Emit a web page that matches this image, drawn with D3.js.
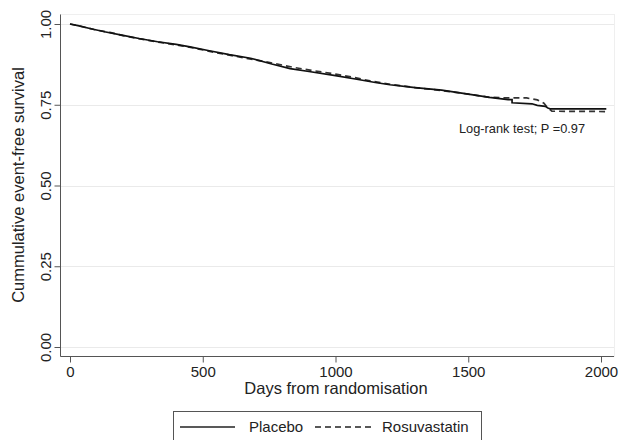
<!DOCTYPE html>
<html>
<head>
<meta charset="utf-8">
<script src="https://cdn.jsdelivr.net/npm/d3@7"></script>
<style>
  body { margin: 0; background: #fff; }
  text { font-family: "Liberation Sans", Arial, sans-serif; fill: #222; }
</style>
</head>
<body>
<div id="chart"></div>
<script>
const width = 620;
const height = 440;

// Kaplan-Meier curves (many tiny steps, drawn as a path)
const placeboDays = [0, 30, 75, 130, 200, 260, 330, 400, 452, 520, 600, 680, 760, 829, 900, 1000, 1080, 1150, 1205, 1300, 1400, 1500, 1580, 1650, 1665, 1665, 1740, 1760, 1790, 1800, 1810, 2020];
const placeboSurv = [1.000, 0.995, 0.986, 0.976, 0.965, 0.955, 0.945, 0.937, 0.929, 0.918, 0.905, 0.894, 0.876, 0.862, 0.853, 0.840, 0.829, 0.819, 0.812, 0.803, 0.795, 0.783, 0.773, 0.766, 0.766, 0.756, 0.753, 0.748, 0.745, 0.740, 0.737, 0.737];
const rosuDays = [0, 40, 90, 150, 200, 270, 340, 410, 470, 540, 610, 690, 770, 840, 920, 1000, 1060, 1130, 1210, 1300, 1400, 1500, 1580, 1650, 1720, 1760, 1785, 1800, 1815, 2020];
const rosuSurv = [1.000, 0.993, 0.983, 0.974, 0.964, 0.953, 0.943, 0.934, 0.925, 0.913, 0.902, 0.890, 0.878, 0.866, 0.855, 0.845, 0.836, 0.824, 0.813, 0.803, 0.794, 0.783, 0.773, 0.771, 0.771, 0.765, 0.755, 0.740, 0.730, 0.729];

const xTicks = [0, 500, 1000, 1500, 2000];
const yTicks = [0, 0.25, 0.5, 0.75, 1];
const seriesNames = ['Placebo', 'Rosuvastatin'];

const svg = d3.select('#chart')
    .append('svg')
    .attr('width', width)
    .attr('height', height);

const x = d3.scaleLinear().domain([0, 2000]).range([70, 601]);
const y = d3.scaleLinear().domain([0, 1]).range([347, 24]);

// plot region frame (light)
svg.append('rect')
    .attr('x', 60.5).attr('y', 14.5)
    .attr('width', 554).attr('height', 342)
    .attr('fill', 'none')
    .attr('stroke', '#efefef');

// gridlines
svg.append('g')
    .selectAll('line')
    .data(yTicks)
    .enter()
    .append('line')
    .attr('x1', 61).attr('x2', 614)
    .attr('y1', d => Math.round(y(d)) + 0.5)
    .attr('y2', d => Math.round(y(d)) + 0.5)
    .attr('stroke', '#eaeaea')
    .attr('stroke-width', 1);

// x axis
const xAxis = svg.append('g')
    .attr('transform', 'translate(0, 356.5)')
    .call(d3.axisBottom(x).tickValues(xTicks).tickSize(6).tickSizeOuter(0).tickFormat(d3.format('d')));
xAxis.select('.domain').attr('d', 'M60.5,0H614').attr('stroke', '#555');
xAxis.selectAll('.tick line').attr('stroke', '#555');
xAxis.selectAll('.tick text')
    .attr('font-size', 15)
    .attr('y', 8)
    .attr('dy', '0.8em')
    .attr('fill', '#222')
    .attr('font-family', '"Liberation Sans", Arial, sans-serif');

// y axis
const yAxis = svg.append('g')
    .attr('transform', 'translate(60.5, 0)')
    .call(d3.axisLeft(y).tickValues(yTicks).tickSize(6).tickSizeOuter(0).tickFormat(d3.format('.2f')));
yAxis.select('.domain').attr('d', 'M0,14.5V356.5').attr('stroke', '#555');
yAxis.selectAll('.tick line').attr('stroke', '#555');
yAxis.selectAll('.tick text')
    .attr('font-size', 15)
    .attr('fill', '#222')
    .attr('font-family', '"Liberation Sans", Arial, sans-serif')
    .attr('x', null).attr('dy', null)
    .attr('text-anchor', 'middle')
    .attr('transform', 'translate(-10, 0) rotate(-90)');

// axis titles
svg.append('text')
    .attr('x', 336).attr('y', 394)
    .attr('text-anchor', 'middle')
    .attr('font-size', 16.5)
    .text('Days from randomisation');

svg.append('text')
    .attr('transform', 'translate(24, 185) rotate(-90)')
    .attr('text-anchor', 'middle')
    .attr('font-size', 16.5)
    .text('Cummulative event-free survival');

// curves
const line = d3.line()
    .x(d => x(d[0]))
    .y(d => y(d[1]));

svg.append('path')
    .datum(rosuDays.map((d, i) => [d, rosuSurv[i]]))
    .attr('d', line)
    .attr('fill', 'none')
    .attr('stroke', '#333')
    .attr('stroke-width', 1.7)
    .attr('stroke-dasharray', '6,4');

svg.append('path')
    .datum(placeboDays.map((d, i) => [d, placeboSurv[i]]))
    .attr('d', line)
    .attr('fill', 'none')
    .attr('stroke', '#111')
    .attr('stroke-width', 1.7);

// annotation
svg.append('text')
    .attr('x', 459).attr('y', 133)
    .attr('font-size', 12.8)
    .text('Log-rank test; P =0.97');

// legend
const legend = svg.append('g');
legend.append('rect')
    .attr('x', 173.5).attr('y', 411.5)
    .attr('width', 308).attr('height', 40)
    .attr('fill', '#fff')
    .attr('stroke', '#555');

const legendItems = [
    {name: seriesNames[0], x1: 180, x2: 235, tx: 249, dash: null},
    {name: seriesNames[1], x1: 315, x2: 373, tx: 382, dash: '6,4'}
];
legend.selectAll('line')
    .data(legendItems)
    .enter()
    .append('line')
    .attr('x1', d => d.x1).attr('x2', d => d.x2)
    .attr('y1', 427).attr('y2', 427)
    .attr('stroke', '#222')
    .attr('stroke-width', 1.4)
    .attr('stroke-dasharray', d => d.dash);
legend.selectAll('text')
    .data(legendItems)
    .enter()
    .append('text')
    .attr('x', d => d.tx).attr('y', 432)
    .attr('font-size', 15)
    .text(d => d.name);
</script>
</body>
</html>
